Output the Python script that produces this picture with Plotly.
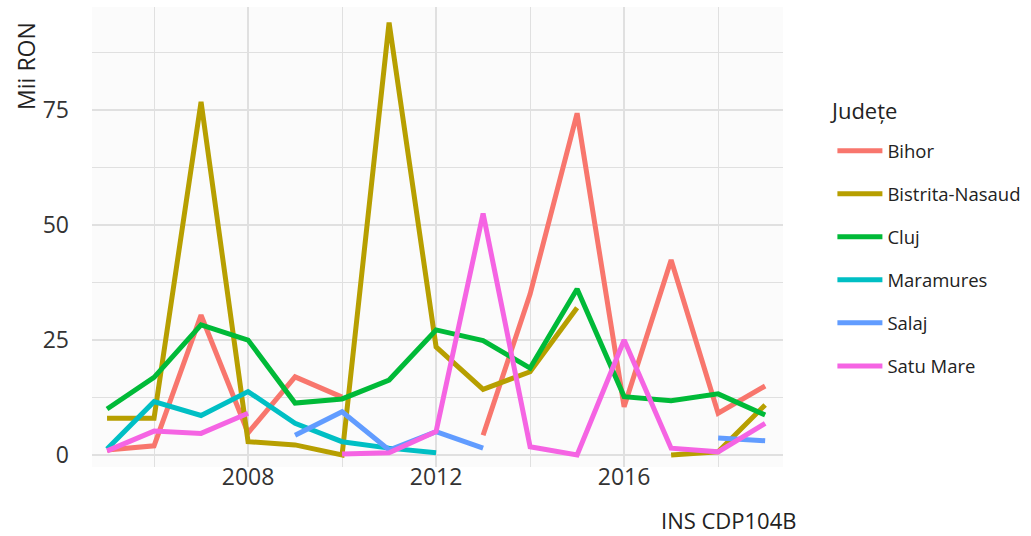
import plotly.graph_objects as go

years = list(range(2005, 2020))
counties = ["Bihor", "Bistrita-Nasaud", "Cluj", "Maramures", "Salaj", "Satu Mare"]
colors = ["#F8766D", "#B79F00", "#00BA38", "#00BFC4", "#619CFF", "#F564E3"]
N = None
bihor = [1.1, 2.0, 30.4, 4.8, 17.0, 12.6, N, N, 4.3, 35.0, 74.3, 10.5, 42.4, 9.1, 15.0]
bistrita = [8.0, 8.0, 76.8, 2.9, 2.2, 0.0, 94.0, 23.5, 14.3, 18.1, 32.0, N, 0.0, 0.7, 10.9]
cluj = [10.0, 16.9, 28.3, 25.0, 11.3, 12.2, 16.3, 27.2, 24.9, 18.9, 36.1, 12.7, 11.8, 13.3, 8.7]
maramures = [1.3, 11.6, 8.6, 13.8, 6.9, 2.9, 1.5, 0.5, N, N, N, N, N, N, N]
salaj = [N, N, N, N, 4.3, 9.4, 1.1, 5.1, 1.5, N, N, N, N, 3.7, 3.1]
satu_mare = [0.9, 5.2, 4.7, 9.1, N, 0.2, 0.5, 5.1, 52.5, 1.8, 0.0, 25.0, 1.5, 0.7, 6.9]
series = [bihor, bistrita, cluj, maramures, salaj, satu_mare]

x_ticks = [2008, 2012, 2016]
x_minor = [2006, 2010, 2014, 2018]
y_ticks = [0, 25, 50, 75]
y_minor = [12.5, 37.5, 62.5, 87.5]

FONT = "Open Sans"
TXT = "#222222"
fig = go.Figure()
for name, vals, col in zip(counties, series, colors):
    fig.add_trace(go.Scatter(
        x=years, y=vals, mode="lines", name=name, legendgroup=name,
        line=dict(color=col, width=5), connectgaps=False,
    ))

grid = "#E0E0E0"
fig.update_layout(
    template="none",
    width=1031, height=536,
    margin=dict(l=92, r=248, t=7, b=69, autoexpand=False),
    paper_bgcolor="white", plot_bgcolor="#FBFBFB",
    font=dict(family=FONT, color=TXT),
    showlegend=True,
    legend=dict(
        x=1.0715, y=0.728, xanchor="left", yanchor="top",
        font=dict(size=18.5, color=TXT, family=FONT),
        tracegroupgap=16, itemwidth=45, bgcolor="rgba(0,0,0,0)",
    ),
    xaxis=dict(
        range=[2004.68, 2019.38], tickvals=x_ticks, ticktext=[str(v) for v in x_ticks],
        showgrid=True, gridcolor=grid, gridwidth=1.5, zeroline=False, showline=False,
        ticks="", tickfont=dict(size=23, color="#333333", family=FONT), automargin=False,
        ticklabelstandoff=-6,
        minor=dict(tickvals=x_minor, showgrid=True, gridcolor=grid, gridwidth=1.2),
    ),
    yaxis=dict(
        range=[-2.6, 97.4], tickvals=y_ticks, ticktext=[str(v) for v in y_ticks],
        showgrid=True, gridcolor=grid, gridwidth=1.5, zeroline=False, showline=False,
        ticks="", tickfont=dict(size=23, color="#333333", family=FONT), automargin=False,
        ticklabelstandoff=22,
        minor=dict(tickvals=y_minor, showgrid=True, gridcolor=grid, gridwidth=1.2),
    ),
    annotations=[
        dict(text="Mii RON", xref="paper", yref="paper", x=-0.0955, y=0.972,
             xanchor="center", yanchor="top", textangle=-90, showarrow=False,
             font=dict(size=23, color=TXT, family=FONT)),
        dict(text="INS CDP104B", xref="paper", yref="paper", x=1.022, y=-0.1152,
             xanchor="right", yanchor="middle", showarrow=False, borderpad=0,
             font=dict(size=22, color=TXT, family=FONT)),
        dict(text="Județe", xref="paper", yref="paper", x=1.0647, y=0.776,
             xanchor="left", yanchor="middle", showarrow=False,
             font=dict(size=22, color=TXT, family=FONT)),
    ],
)

fig.write_html("out.html", config={"displayModeBar": False},
               post_script="document.body.style.margin='0px';")
